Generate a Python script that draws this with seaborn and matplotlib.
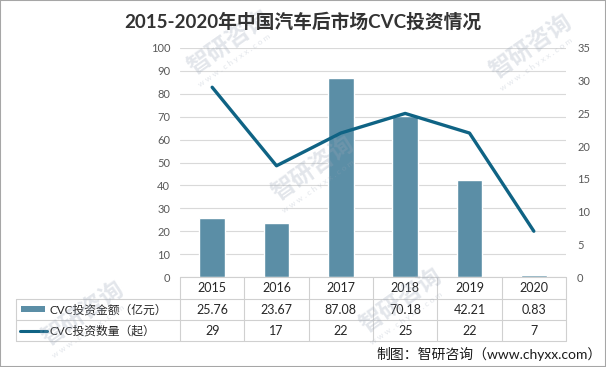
import matplotlib
matplotlib.use("Agg")
import matplotlib.pyplot as plt
import matplotlib.transforms as mtransforms
from matplotlib.lines import Line2D
from matplotlib.patches import Rectangle
import numpy as np
import pandas as pd
import seaborn as sns

# data
years = ["2015", "2016", "2017", "2018", "2019", "2020"]
amount = [25.76, 23.67, 87.08, 70.18, 42.21, 0.83]   # 亿元
count = [29, 17, 22, 25, 22, 7]                      # 起
amount_name = "CVC投资金额（亿元）"
count_name = "CVC投资数量（起）"
title = "2015-2020年中国汽车后市场CVC投资情况"
source = "制图：智研咨询（www.chyxx.com）"

bar_color = "#5B8EA6"
line_color = "#0F6384"
grid_color = "#D9D9D9"
tick_color = "#595959"

sns.set_theme(style="white")
plt.rcParams["font.family"] = ["Lato", "Noto Sans CJK SC", "DejaVu Sans"]

W, H = 606, 367
fig = plt.figure(figsize=(W / 100, H / 100), dpi=100)


def fx(px):
    return px / W


def fy(py):
    return 1 - py / H


left, right, top, bottom = 180, 566, 48, 277
ax = fig.add_axes([fx(left), fy(bottom), fx(right) - fx(left), fy(top) - fy(bottom)])
ax.patch.set_alpha(0)

df = pd.DataFrame({"year": years, "amount": amount, "count": count})
df["pos"] = np.arange(len(years))

sns.barplot(data=df, x="year", y="amount", color=bar_color, width=0.4,
            saturation=1, ax=ax, zorder=3)
ax.set_ylim(0, 100)
ax.set_yticks(np.arange(0, 101, 10))
ax.set_xlim(-0.5, len(years) - 0.5)
ax.grid(axis="y", color=grid_color, linewidth=0.8, zorder=0)
ax.set_axisbelow(True)
ax.set_xlabel("")
ax.set_ylabel("")
ax.set_xticks([])
ax.tick_params(axis="y", length=0, pad=7, labelsize=8, labelcolor=tick_color)
for s in ax.spines.values():
    s.set_visible(False)

ax2 = ax.twinx()
sns.lineplot(data=df, x="pos", y="count", color=line_color, linewidth=2.4, ax=ax2,
             zorder=4)
ax2.set_ylim(0, 35)
ax2.set_yticks(np.arange(0, 36, 5))
ax2.set_xlim(-0.5, len(years) - 0.5)
ax2.set_xlabel("")
ax2.set_ylabel("")
ax2.tick_params(axis="y", length=0, pad=8, labelsize=8, labelcolor=tick_color)
for s in ax2.spines.values():
    s.set_visible(False)

# data table below the plot
tcol = "#D0D0D0"
lines = [
    Line2D([fx(left), fx(right)], [fy(277), fy(277)]),
    Line2D([fx(16), fx(right)], [fy(299), fy(299)]),
    Line2D([fx(16), fx(right)], [fy(320), fy(320)]),
    Line2D([fx(16), fx(right)], [fy(341), fy(341)]),
    Line2D([fx(16), fx(16)], [fy(299), fy(341)]),
]
colw = (right - left) / len(years)
for i in range(len(years) + 1):
    xx = fx(left + i * colw)
    lines.append(Line2D([xx, xx], [fy(277), fy(341)]))
for ln in lines:
    ln.set_color(tcol)
    ln.set_linewidth(0.8)
    ln.set_transform(fig.transFigure)
    fig.add_artist(ln)

trans = mtransforms.blended_transform_factory(ax.transData, fig.transFigure)
for i, y in enumerate(years):
    fig.text(i, fy(288), y, transform=trans, ha="center", va="center",
             fontsize=9, color="#262626")
    fig.text(i, fy(310), f"{amount[i]:.2f}", transform=trans, ha="center",
             va="center", fontsize=9, color="#262626")
    fig.text(i, fy(331), f"{count[i]}", transform=trans, ha="center",
             va="center", fontsize=9, color="#262626")

fig.add_artist(Rectangle((fx(21), fy(312)), fx(45) - fx(21), fy(306) - fy(312),
                         transform=fig.transFigure, color=bar_color, lw=0))
fig.add_artist(Line2D([fx(20), fx(47)], [fy(330.5), fy(330.5)],
                      transform=fig.transFigure, color=line_color, linewidth=2.2))
fig.text(fx(50), fy(310), amount_name, ha="left", va="center", fontsize=8.5,
         color="#262626")
fig.text(fx(50), fy(331), count_name, ha="left", va="center", fontsize=8.5,
         color="#262626")

# faint watermarks
for wx, wy in [(228, 42), (530, 46), (312, 168), (82, 313), (400, 300)]:
    fig.text(fx(wx), fy(wy), "智研咨询", rotation=35, fontsize=17, color="#9AA6B8",
             alpha=0.28, ha="center", va="center", fontweight="bold",
             rotation_mode="anchor", zorder=10)
    fig.text(fx(wx + 6), fy(wy + 18), "w w w . c h y x x . c o m", rotation=35,
             fontsize=6, color="#9AA6B8", alpha=0.28, ha="center", va="center",
             rotation_mode="anchor", zorder=10)

fig.text(0.5, fy(22), title, ha="center", va="center", fontsize=13.5,
         fontweight="bold", color="#333333", zorder=11)
fig.text(fx(602), fy(354), source, ha="right", va="center", fontsize=10,
         color="#1A1A1A", zorder=11)

fig.add_artist(Rectangle((0, 0), 1, 1, transform=fig.transFigure, fill=False,
                         edgecolor="#A6A6A6", linewidth=1.5))

fig.savefig("out.png", dpi=100)
